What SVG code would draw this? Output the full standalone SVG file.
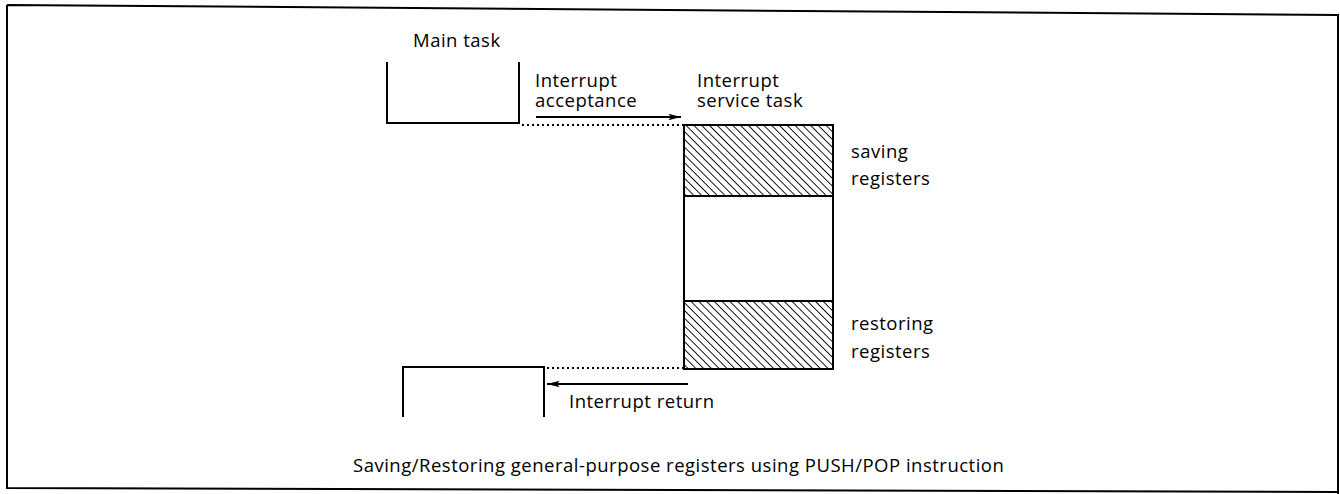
<svg xmlns="http://www.w3.org/2000/svg" width="1340" height="494" viewBox="0 0 1340 494">
<style>
text{font-family:"Open Sans","Liberation Sans",sans-serif;font-size:18.5px;letter-spacing:0.5px;fill:#000}
.ln{fill:none;stroke:#000;stroke-width:2}
.dot{fill:none;stroke:#000;stroke-width:2;stroke-dasharray:2 3}
.ar{fill:none;stroke:#000;stroke-width:1.8}
</style>
<defs>
<pattern id="hatch" patternUnits="userSpaceOnUse" width="5.5" height="5.5" patternTransform="rotate(-45)">
<line x1="0" y1="0" x2="0" y2="5.5" stroke="#000" stroke-width="1.8"/>
</pattern>
<marker id="ah" viewBox="0 0 14 10" refX="14" refY="5" markerWidth="14" markerHeight="9" markerUnits="userSpaceOnUse" orient="auto">
<path d="M0,1.5 L14,5 L0,8.5 L3,5 Z" fill="#000"/>
</marker>
</defs>
<path id="frame" class="ln" d="M7,5 L1338,15 L1338,494 M7,5 L7,488 L1338,492"/>
<g id="main-task">
<path class="ln" d="M387,62 L387,123 L519,123 L519,62"/>
<text x="413" y="47">Main task</text>
</g>
<g id="main-task-resume">
<path class="ln" d="M403,417 L403,367 L544,367 L544,417"/>
</g>
<g id="service-task">
<rect x="684" y="125" width="149" height="71" fill="url(#hatch)"/>
<rect x="684" y="301" width="149" height="68" fill="url(#hatch)"/>
<rect class="ln" x="684" y="125" width="149" height="244"/>
<line class="ln" x1="684" y1="196" x2="833" y2="196"/>
<line class="ln" x1="684" y1="301" x2="833" y2="301"/>
<text x="697" y="87">Interrupt<tspan x="697" dy="20">service task</tspan></text>
<text x="851" y="158">saving<tspan x="851" dy="27">registers</tspan></text>
<text x="851" y="330">restoring<tspan x="851" dy="28">registers</tspan></text>
</g>
<g id="connectors">
<line class="dot" x1="522" y1="125" x2="683" y2="125"/>
<line class="dot" x1="547" y1="368" x2="683" y2="368"/>
<line class="ar" x1="536" y1="117" x2="681" y2="117" marker-end="url(#ah)"/>
<line class="ar" x1="688" y1="384" x2="547" y2="384" marker-end="url(#ah)"/>
<text x="535" y="87">Interrupt<tspan x="535" dy="20">acceptance</tspan></text>
<text x="569" y="408">Interrupt return</text>
</g>
<text x="353" y="472">Saving/Restoring general-purpose registers using PUSH/POP instruction</text>
</svg>
